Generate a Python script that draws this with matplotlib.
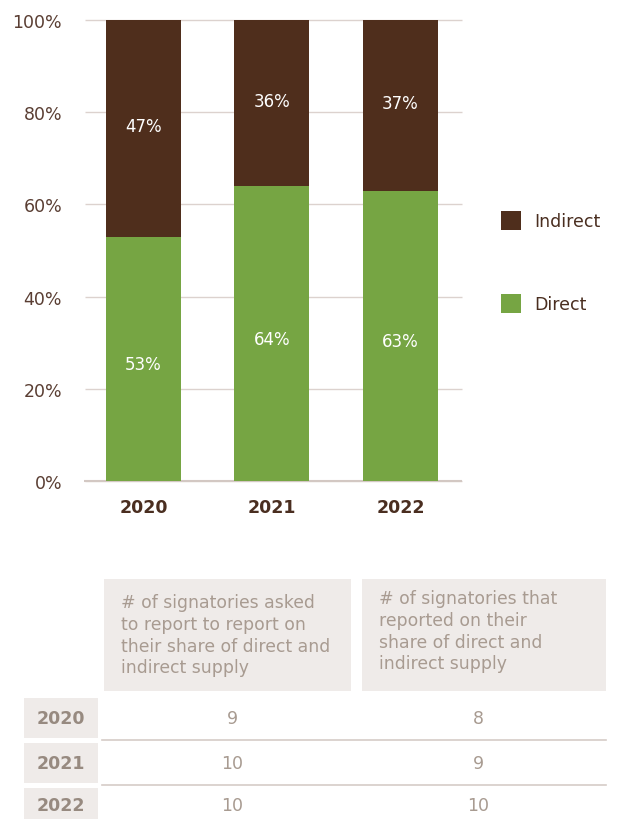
import numpy as np
import matplotlib.pyplot as plt
from matplotlib.patches import Rectangle

plt.rcParams['font.family'] = ['DejaVu Sans']

years = ['2020', '2021', '2022']
direct = [53, 64, 63]
indirect = [47, 36, 37]

table_header = ['# of signatories asked\nto report to report on\ntheir share of direct and\nindirect supply',
                '# of signatories that\nreported on their\nshare of direct and\nindirect supply']
asked = [9, 10, 10]
reported = [8, 9, 10]

BROWN = '#4f2e1c'
GREEN = '#76a543'
TICK_C = '#5a3e33'
GRID_C = '#dcd2ce'
CELL_BG = '#efebe9'
TABLE_TXT = '#a89b91'
ROW_TXT = '#978a80'

W, H = 619, 820
fig = plt.figure(figsize=(W / 100, H / 100), dpi=100)

# stacked bar chart
ax = fig.add_axes([85 / W, 1 - 482 / H, (462 - 85) / W, (482 - 21) / H])
x = np.arange(len(years))
bw = 0.584
ax.bar(x, direct, bw, color=GREEN, zorder=3, label='Direct')
ax.bar(x, indirect, bw, bottom=direct, color=BROWN, zorder=3, label='Indirect')

for i in range(len(years)):
    ax.text(x[i], direct[i] / 2 - 1.2, f'{direct[i]}%', ha='center', va='center',
            color='white', fontsize=12, zorder=4)
    ax.text(x[i], direct[i] + indirect[i] / 2 + 0.5, f'{indirect[i]}%', ha='center',
            va='center', color='white', fontsize=12, zorder=4)

ax.set_xlim(-0.455, 2.479)
ax.set_ylim(0, 100)
ticks = list(range(0, 101, 20))
ax.set_yticks(ticks)
ax.set_yticklabels([f'{v}%' for v in ticks])
ax.set_xticks(x)
ax.set_xticklabels(years, fontweight='bold')
ax.tick_params(axis='y', length=0, pad=16.5, labelsize=12.5, labelcolor=TICK_C)
ax.tick_params(axis='x', length=0, pad=12, labelsize=12.5, labelcolor='#4a2e20')
# horizontal guide lines, unclipped so the edges show fully
ax.hlines(ticks, -0.455, 2.479, color=GRID_C, linewidth=1.0, zorder=0, clip_on=False)
ax.hlines(0, -0.46, 2.479, color='#d3c8c3', linewidth=1.5, zorder=2, clip_on=False)
for s in ax.spines.values():
    s.set_visible(False)

# legend squares
handles, labels = ax.get_legend_handles_labels()
leg = fig.legend(handles[::-1], labels[::-1], loc='center left',
                 bbox_to_anchor=(485 / W, 1 - 263 / H), frameon=False,
                 fontsize=12.5, labelcolor='#4a2e20', handlelength=1.2, handleheight=1.3,
                 labelspacing=3.7, handletextpad=0.75)

# table below the chart, drawn in pixel coordinates
tb = fig.add_axes([0, 0, 1, 1])
tb.set_xlim(0, W)
tb.set_ylim(H, 0)
tb.axis('off')

header_cells = [(104, 351), (362, 606)]
header_top = [594, 590]
for (x0, x1), txt, ty in zip(header_cells, table_header, header_top):
    tb.add_patch(Rectangle((x0, 580), x1 - x0, 112, color=CELL_BG, lw=0))
    tb.text(x0 + 17, ty, txt, ha='left', va='top', color=TABLE_TXT,
            fontsize=12.4, linespacing=1.27)

row_spans = [(699, 739), (744, 784), (789, 830)]
col_centers = [232, 478]
for i, (y0, y1) in enumerate(row_spans):
    tb.add_patch(Rectangle((24, y0), 74, y1 - y0, color=CELL_BG, lw=0))
    yc = (y0 + y1) / 2 if i < 2 else 806
    tb.text(61, yc, years[i], ha='center', va='center', color=ROW_TXT,
            fontsize=12.5, fontweight='bold')
    tb.text(col_centers[0], yc, str(asked[i]), ha='center', va='center',
            color=TABLE_TXT, fontsize=12.5)
    tb.text(col_centers[1], yc, str(reported[i]), ha='center', va='center',
            color=TABLE_TXT, fontsize=12.5)
    if i < 2:
        tb.plot([102, 606], [y1 + 2, y1 + 2], color='#d6ccc7', lw=1.2)

fig.savefig('out.png', dpi=100)
